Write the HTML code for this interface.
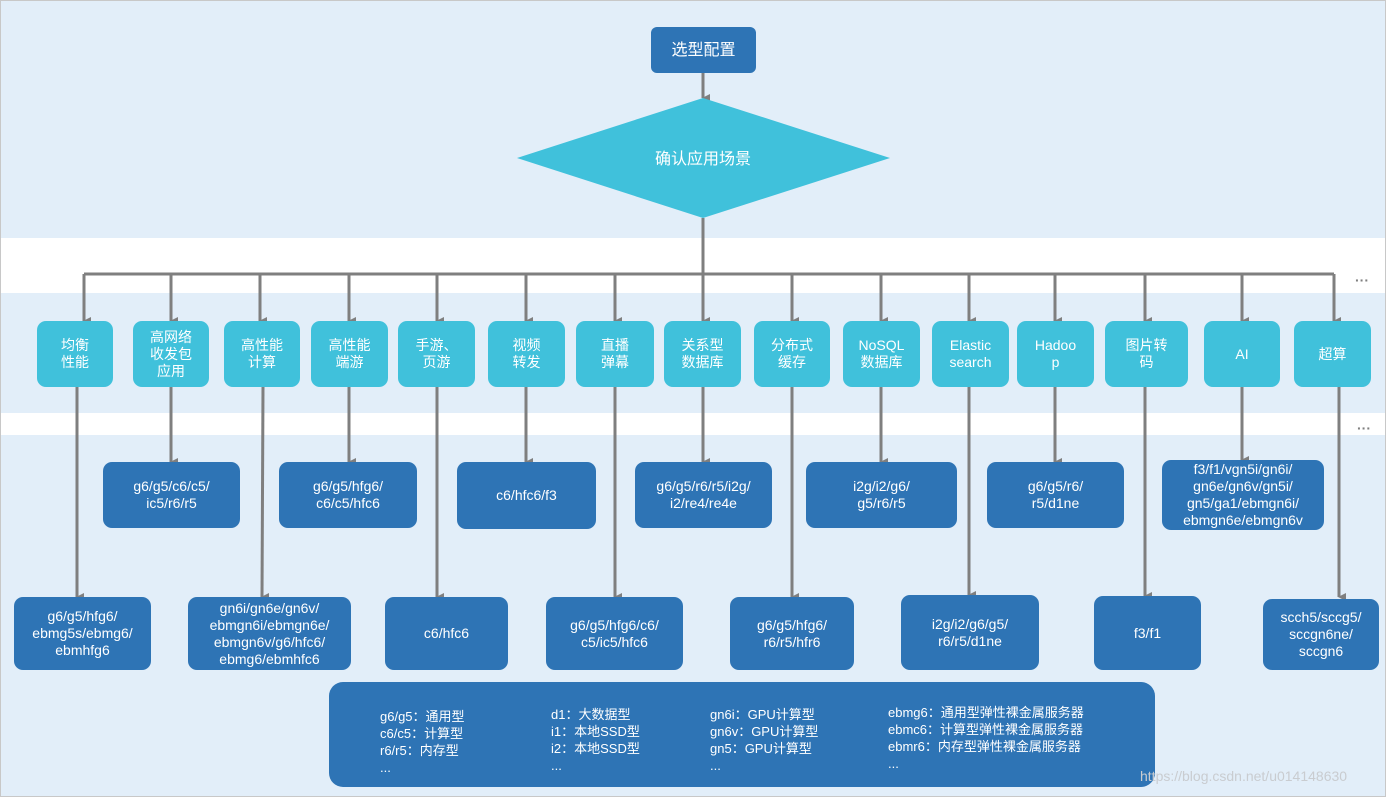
<!DOCTYPE html>
<html><head><meta charset="utf-8"><style>
body{margin:0;width:1386px;height:797px;position:relative;overflow:hidden;background:#e2eef9;font-family:"Liberation Sans","Noto Sans CJK SC",sans-serif;}
.band{position:absolute;left:0;width:1386px;background:#fff}
.b{position:absolute;display:flex;align-items:center;justify-content:center;text-align:center;color:#fff;font-size:14px;line-height:17px;border-radius:9px;box-sizing:border-box}
.c{background:#40c1db}
.d{background:#2e74b5}
.leg{position:absolute;color:#fff;font-size:13px;line-height:17px;white-space:pre}
</style></head><body>
<div class="band" style="top:238px;height:55px"></div>
<div class="band" style="top:413px;height:22px"></div>
<div style="position:absolute;left:0;top:0;width:1384px;height:795px;border:1px solid #c8c8c8"></div>
<svg style="position:absolute;left:0;top:0" width="1386" height="797">
<defs><marker id="a" markerWidth="8" markerHeight="8" refX="4" refY="7" orient="auto" markerUnits="userSpaceOnUse"><path d="M0,0 L8,0 L4,8 Z" fill="#7f7f7f"/></marker></defs>
<g stroke="#7f7f7f" stroke-width="3" fill="none">
<line x1="703" y1="73" x2="703" y2="98" marker-end="url(#a)"/>
<line x1="703" y1="218" x2="703" y2="274"/>
<line x1="84" y1="274" x2="1334" y2="274"/>
<line x1="84" y1="274" x2="84" y2="321" marker-end="url(#a)"/>
<line x1="171" y1="274" x2="171" y2="321" marker-end="url(#a)"/>
<line x1="260" y1="274" x2="260" y2="321" marker-end="url(#a)"/>
<line x1="349" y1="274" x2="349" y2="321" marker-end="url(#a)"/>
<line x1="437" y1="274" x2="437" y2="321" marker-end="url(#a)"/>
<line x1="526" y1="274" x2="526" y2="321" marker-end="url(#a)"/>
<line x1="615" y1="274" x2="615" y2="321" marker-end="url(#a)"/>
<line x1="703" y1="274" x2="703" y2="321" marker-end="url(#a)"/>
<line x1="792" y1="274" x2="792" y2="321" marker-end="url(#a)"/>
<line x1="881" y1="274" x2="881" y2="321" marker-end="url(#a)"/>
<line x1="969" y1="274" x2="969" y2="321" marker-end="url(#a)"/>
<line x1="1055" y1="274" x2="1055" y2="321" marker-end="url(#a)"/>
<line x1="1145" y1="274" x2="1145" y2="321" marker-end="url(#a)"/>
<line x1="1242" y1="274" x2="1242" y2="321" marker-end="url(#a)"/>
<line x1="1334" y1="274" x2="1334" y2="321" marker-end="url(#a)"/>
<line x1="171" y1="387" x2="171" y2="462" marker-end="url(#a)"/>
<line x1="349" y1="387" x2="349" y2="462" marker-end="url(#a)"/>
<line x1="526" y1="387" x2="526" y2="462" marker-end="url(#a)"/>
<line x1="703" y1="387" x2="703" y2="462" marker-end="url(#a)"/>
<line x1="881" y1="387" x2="881" y2="462" marker-end="url(#a)"/>
<line x1="1055" y1="387" x2="1055" y2="462" marker-end="url(#a)"/>
<line x1="1242" y1="387" x2="1242" y2="460" marker-end="url(#a)"/>
<line x1="77" y1="387" x2="77" y2="597" marker-end="url(#a)"/>
<line x1="263" y1="387" x2="262" y2="597" marker-end="url(#a)"/>
<line x1="437" y1="387" x2="437" y2="597" marker-end="url(#a)"/>
<line x1="615" y1="387" x2="615" y2="597" marker-end="url(#a)"/>
<line x1="792" y1="387" x2="792" y2="597" marker-end="url(#a)"/>
<line x1="969" y1="387" x2="969" y2="595" marker-end="url(#a)"/>
<line x1="1145" y1="387" x2="1145" y2="596" marker-end="url(#a)"/>
<line x1="1339" y1="387" x2="1339" y2="597" marker-end="url(#a)"/>
</g>
<polygon points="703,98 890,158 703,218 517,158" fill="#40c1db"/>
<text x="703" y="164" fill="#fff" font-size="16" text-anchor="middle" font-family="Liberation Sans,Noto Sans CJK SC,sans-serif">确认应用场景</text>
<text x="1362" y="285" fill="#7f7f7f" font-size="14" text-anchor="middle" font-weight="bold">···</text>
<text x="1364" y="433" fill="#7f7f7f" font-size="14" text-anchor="middle" font-weight="bold">···</text>
</svg>
<div class="b d" style="left:651px;top:27px;width:105px;height:46px;font-size:16px;border-radius:6px">选型配置</div>

<div class="b c" style="left:37px;top:321px;width:76px;height:66px">均衡<br>性能</div>
<div class="b c" style="left:133px;top:321px;width:76px;height:66px">高网络<br>收发包<br>应用</div>
<div class="b c" style="left:224px;top:321px;width:76px;height:66px">高性能<br>计算</div>
<div class="b c" style="left:311px;top:321px;width:77px;height:66px">高性能<br>端游</div>
<div class="b c" style="left:398px;top:321px;width:77px;height:66px">手游、<br>页游</div>
<div class="b c" style="left:488px;top:321px;width:77px;height:66px">视频<br>转发</div>
<div class="b c" style="left:576px;top:321px;width:78px;height:66px">直播<br>弹幕</div>
<div class="b c" style="left:664px;top:321px;width:77px;height:66px">关系型<br>数据库</div>
<div class="b c" style="left:754px;top:321px;width:76px;height:66px">分布式<br>缓存</div>
<div class="b c" style="left:843px;top:321px;width:77px;height:66px">NoSQL<br>数据库</div>
<div class="b c" style="left:932px;top:321px;width:77px;height:66px">Elastic<br>search</div>
<div class="b c" style="left:1017px;top:321px;width:77px;height:66px">Hadoo<br>p</div>
<div class="b c" style="left:1105px;top:321px;width:83px;height:66px">图片转<br>码</div>
<div class="b c" style="left:1204px;top:321px;width:76px;height:66px">AI</div>
<div class="b c" style="left:1294px;top:321px;width:77px;height:66px">超算</div>

<div class="b d" style="left:103px;top:462px;width:137px;height:66px">g6/g5/c6/c5/<br>ic5/r6/r5</div>
<div class="b d" style="left:279px;top:462px;width:138px;height:66px">g6/g5/hfg6/<br>c6/c5/hfc6</div>
<div class="b d" style="left:457px;top:462px;width:139px;height:67px">c6/hfc6/f3</div>
<div class="b d" style="left:635px;top:462px;width:137px;height:66px">g6/g5/r6/r5/i2g/<br>i2/re4/re4e</div>
<div class="b d" style="left:806px;top:462px;width:151px;height:66px">i2g/i2/g6/<br>g5/r6/r5</div>
<div class="b d" style="left:987px;top:462px;width:137px;height:66px">g6/g5/r6/<br>r5/d1ne</div>
<div class="b d" style="left:1162px;top:460px;width:162px;height:70px">f3/f1/vgn5i/gn6i/<br>gn6e/gn6v/gn5i/<br>gn5/ga1/ebmgn6i/<br>ebmgn6e/ebmgn6v</div>

<div class="b d" style="left:14px;top:597px;width:137px;height:73px">g6/g5/hfg6/<br>ebmg5s/ebmg6/<br>ebmhfg6</div>
<div class="b d" style="left:188px;top:597px;width:163px;height:73px">gn6i/gn6e/gn6v/<br>ebmgn6i/ebmgn6e/<br>ebmgn6v/g6/hfc6/<br>ebmg6/ebmhfc6</div>
<div class="b d" style="left:385px;top:597px;width:123px;height:73px">c6/hfc6</div>
<div class="b d" style="left:546px;top:597px;width:137px;height:73px">g6/g5/hfg6/c6/<br>c5/ic5/hfc6</div>
<div class="b d" style="left:730px;top:597px;width:124px;height:73px">g6/g5/hfg6/<br>r6/r5/hfr6</div>
<div class="b d" style="left:901px;top:595px;width:138px;height:75px">i2g/i2/g6/g5/<br>r6/r5/d1ne</div>
<div class="b d" style="left:1094px;top:596px;width:107px;height:74px">f3/f1</div>
<div class="b d" style="left:1263px;top:599px;width:116px;height:71px">scch5/sccg5/<br>sccgn6ne/<br>sccgn6</div>

<div class="b d" style="left:329px;top:682px;width:826px;height:105px;border-radius:14px"></div>
<div class="leg" style="left:380px;top:708px">g6/g5：通用型
c6/c5：计算型
r6/r5：内存型
...</div>
<div class="leg" style="left:551px;top:706px">d1：大数据型
i1：本地SSD型
i2：本地SSD型
...</div>
<div class="leg" style="left:710px;top:706px">gn6i：GPU计算型
gn6v：GPU计算型
gn5：GPU计算型
...</div>
<div class="leg" style="left:888px;top:704px">ebmg6：通用型弹性裸金属服务器
ebmc6：计算型弹性裸金属服务器
ebmr6：内存型弹性裸金属服务器
...</div>
<div style="position:absolute;left:1140px;top:768px;color:#c9ccd0;font-size:14px">https://blog.csdn.net/u014148630</div>
</body></html>
